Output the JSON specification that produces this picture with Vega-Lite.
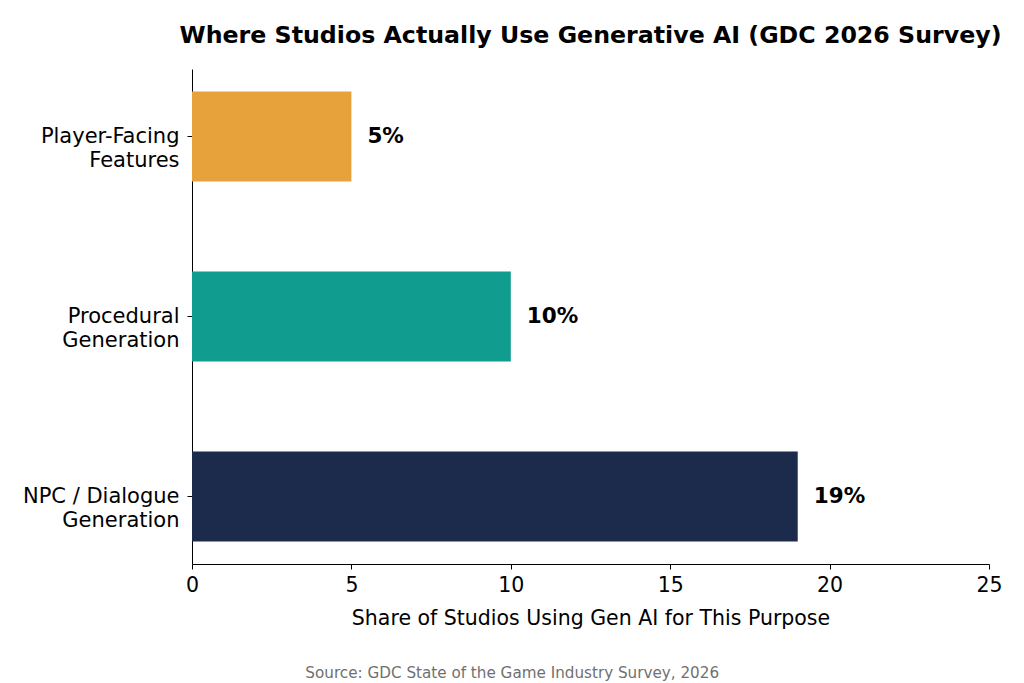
{
  "$schema": "https://vega.github.io/schema/vega-lite/v6.json",
  "padding": {"left": 22, "top": 24, "right": 20, "bottom": 4},
  "background": "white",
  "title": {
    "text": "Source: GDC State of the Game Industry Survey, 2026",
    "orient": "bottom",
    "anchor": "middle",
    "font": "DejaVu Sans",
    "fontSize": 15.2,
    "fontWeight": "normal",
    "color": "#707070",
    "offset": 37
  },
  "data": {
    "values": [
      {"purpose": "Player-Facing Features", "share": 5, "label": "5%"},
      {"purpose": "Procedural Generation", "share": 10, "label": "10%"},
      {"purpose": "NPC / Dialogue Generation", "share": 19, "label": "19%"}
    ]
  },
  "vconcat": [
    {
      "width": 797,
      "height": 495,
      "title": {
        "text": "Where Studios Actually Use Generative AI (GDC 2026 Survey)",
        "anchor": "middle",
        "frame": "group",
        "font": "DejaVu Sans",
        "fontSize": 23.7,
        "fontWeight": "bold",
        "color": "black",
        "offset": 21
      },
      "encoding": {
        "y": {
          "field": "purpose",
          "type": "nominal",
          "sort": ["Player-Facing Features", "Procedural Generation", "NPC / Dialogue Generation"],
          "scale": {"paddingInner": 0.5, "paddingOuter": 0.125},
          "axis": {
            "title": null,
            "labelExpr": "[substring(datum.label, 0, lastindexof(datum.label, ' ')), substring(datum.label, lastindexof(datum.label, ' ') + 1)]",
            "labelFont": "DejaVu Sans",
            "labelFontSize": 21,
            "labelColor": "black",
            "labelLineHeight": 24,
            "labelPadding": 8,
            "tickColor": "black",
            "tickSize": 5,
            "domainColor": "black",
            "grid": false
          }
        },
        "x": {
          "field": "share",
          "type": "quantitative",
          "scale": {"domain": [0, 25], "nice": false},
          "axis": {
            "title": "Share of Studios Using Gen AI for This Purpose",
            "titleFont": "DejaVu Sans",
            "titleFontSize": 20.5,
            "titleFontWeight": "normal",
            "titleColor": "black",
            "titlePadding": 13,
            "values": [0, 5, 10, 15, 20, 25],
            "labelFont": "DejaVu Sans",
            "labelFontSize": 20.5,
            "labelColor": "black",
            "labelPadding": 6,
            "labelFlush": false,
            "tickColor": "black",
            "tickSize": 5,
            "domainColor": "black",
            "grid": false
          }
        }
      },
      "layer": [
        {
          "mark": {"type": "bar"},
          "encoding": {
            "color": {
              "field": "purpose",
              "type": "nominal",
              "scale": {
                "domain": ["Player-Facing Features", "Procedural Generation", "NPC / Dialogue Generation"],
                "range": ["#E8A23C", "#109C8F", "#1C2B4B"]
              },
              "legend": null
            }
          }
        },
        {
          "mark": {
            "type": "text",
            "align": "left",
            "baseline": "middle",
            "dx": 16,
            "font": "DejaVu Sans",
            "fontSize": 21.5,
            "fontWeight": "bold",
            "color": "black"
          },
          "encoding": {
            "text": {"field": "label"}
          }
        }
      ]
    }
  ],
  "config": {
    "view": {"stroke": null},
    "concat": {"spacing": 0}
  }
}
